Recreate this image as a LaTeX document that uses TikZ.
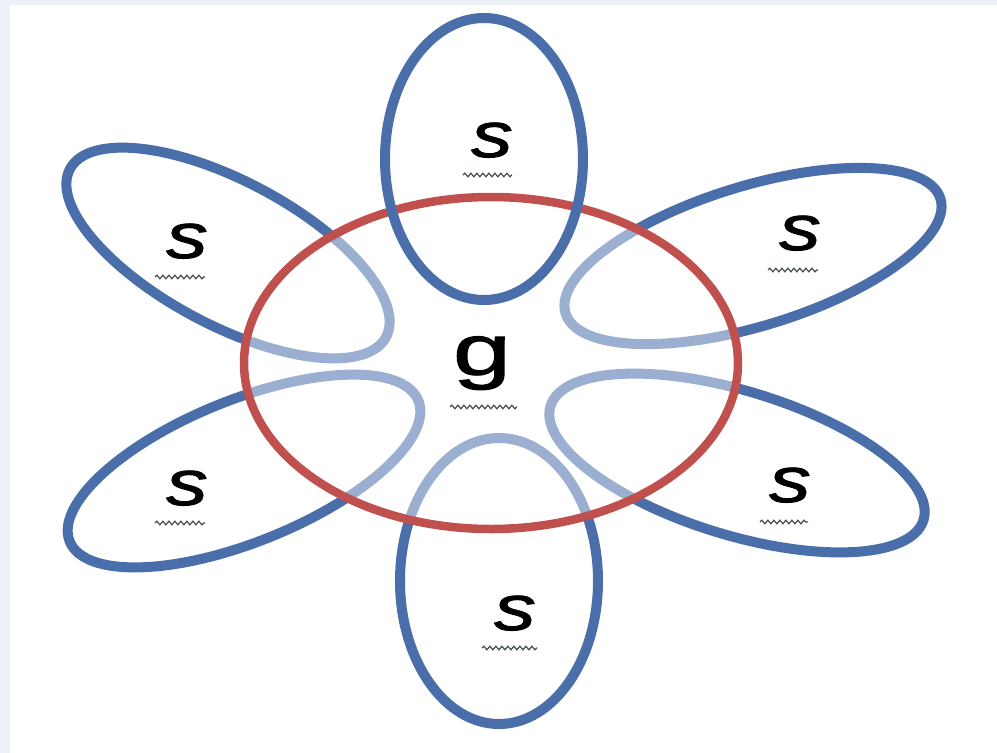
\documentclass[tikz,border=0pt]{standalone}
\usepackage{fontspec}
\setmainfont{Liberation Sans}
\newfontfamily\labelfont{Liberation Sans}[RawFeature={embolden=1.3}]
\usetikzlibrary{decorations.pathmorphing}
\definecolor{petalblue}{RGB}{74,110,170}
\definecolor{ringred}{RGB}{192,80,77}
\definecolor{bgedge}{RGB}{236,241,248}
\definecolor{squigcol}{RGB}{70,80,70}
\tikzset{
  petalline/.style={draw=petalblue,line width=10pt},
  ringline/.style={draw=ringred,line width=8.5pt},
  slabel/.style={anchor=base,inner sep=0pt,xscale=1.3,font=\labelfont\fontsize{64}{64}\selectfont\itshape},
  glabel/.style={anchor=base,inner sep=0pt,xscale=1.45,font=\labelfont\fontsize{72}{72}\selectfont},
  squig/.style={draw=squigcol,line width=1.2pt,decorate,decoration={snake,segment length=6pt,amplitude=1.8pt}}
}
\begin{document}
\begin{tikzpicture}[x=1pt,y=-1pt]
\fill[bgedge] (0,0) rectangle (997,753);
\fill[white] (10,5) rectangle (997,753);
\useasboundingbox (0,0) rectangle (997,753);
% side and bottom petals
\draw[petalline, rotate around={-28:(228,253)}] (228,253) ellipse [x radius=179pt, y radius=72pt];
\draw[petalline, rotate around={17:(753,256)}] (753,256) ellipse [x radius=196pt, y radius=70pt];
\draw[petalline, rotate around={22:(244,471)}] (244,471) ellipse [x radius=188pt, y radius=71pt];
\draw[petalline, rotate around={-17:(737,463)}] (737,463) ellipse [x radius=195pt, y radius=72pt];
\draw[petalline] (499,581) ellipse [x radius=99pt, y radius=143pt];
% fade inside the ring
\fill[white, opacity=0.45] (491,363) ellipse [x radius=247pt, y radius=166pt];
\draw[ringline] (491,363) ellipse [x radius=247pt, y radius=166pt];
% top petal
\draw[petalline] (484,159) ellipse [x radius=99pt, y radius=141pt];
% labels
\node[slabel] (st) at (492,157) {s};
\node[slabel] (sul) at (187,258) {s};
\node[slabel] (sur) at (800,250) {s};
\node[slabel] (sll) at (187,505) {s};
\node[slabel] (slr) at (790,502) {s};
\node[slabel] (sb) at (515,630) {s};
\node[glabel] (g) at (482,375) {g};
% squiggles
\draw[squig] (463,175) -- (512,175);
\draw[squig] (155,277) -- (205,277);
\draw[squig] (768,270) -- (818,270);
\draw[squig] (155,523) -- (205,523);
\draw[squig] (760,522) -- (808,522);
\draw[squig] (482,648) -- (537,648);
\draw[squig] (450,407) -- (517,407);
\end{tikzpicture}
\end{document}
